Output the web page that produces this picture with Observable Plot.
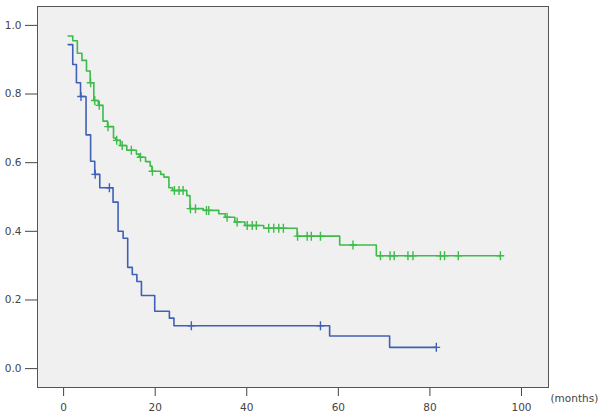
<!DOCTYPE html>
<html>
<head>
<meta charset="utf-8">
<script src="https://cdn.jsdelivr.net/npm/d3@7"></script>
<script src="https://cdn.jsdelivr.net/npm/@observablehq/plot@0.6"></script>
<style>
  html, body { margin: 0; padding: 0; background: #ffffff; }
  #chart { width: 600px; height: 413px; }
</style>
</head>
<body>
<div id="chart"></div>
<script>
// Green group: event times (months) and survival after each drop
const greenTime = [1, 2, 3, 4, 5, 5.8, 6.6, 7.6, 8.6, 9.6, 10.9, 11.4, 12.4, 13.8, 15.9, 16.5, 17.9, 18.9, 19.3, 21.2, 21.9, 23.0, 23.8, 26.9, 27.6, 30.5, 33.9, 35.3, 37.4, 39.6, 43.7, 51.0, 60.3, 68.3];
const greenSurv = [0.969, 0.955, 0.919, 0.898, 0.867, 0.833, 0.781, 0.767, 0.721, 0.705, 0.672, 0.665, 0.650, 0.636, 0.625, 0.616, 0.603, 0.590, 0.575, 0.566, 0.558, 0.527, 0.519, 0.504, 0.466, 0.461, 0.451, 0.441, 0.427, 0.417, 0.409, 0.386, 0.360, 0.329];
const greenCensor = [5.9, 6.8, 7.8, 9.7, 11.6, 12.8, 14.8, 16.8, 19.4, 24.2, 25.2, 26.1, 27.7, 28.8, 31.2, 31.7, 35.7, 37.9, 40.1, 41.2, 42.1, 44.8, 45.9, 47.0, 48.0, 51.1, 53.2, 54.1, 56.1, 63.2, 69.2, 71.3, 72.2, 75.2, 76.3, 82.3, 83.2, 86.2, 95.4];

// Blue group
const blueTime = [1, 2, 2.8, 3.7, 4.9, 5.9, 6.8, 7.9, 10.8, 11.9, 13.0, 14.0, 15.0, 16.0, 17.0, 19.9, 23.1, 24.1, 58.1, 71.2];
const blueSurv = [0.944, 0.886, 0.833, 0.793, 0.681, 0.604, 0.566, 0.527, 0.485, 0.400, 0.380, 0.295, 0.274, 0.254, 0.213, 0.167, 0.147, 0.125, 0.095, 0.062];
const blueCensor = [3.8, 6.9, 10.0, 27.9, 56.1, 81.4];

const xTicks = [0, 20, 40, 60, 80, 100];
const yTicks = [0, 0.2, 0.4, 0.6, 0.8, 1.0];

const GREEN = "#3dbb4b";
const BLUE = "#4060b8";

function stepAt(times, surv, t) {
  let s = surv[0];
  for (let i = 0; i < times.length; i++) if (times[i] <= t) s = surv[i];
  return s;
}
function lineData(times, surv, censor) {
  const d = times.map((t, i) => ({t, s: surv[i]}));
  const last = censor[censor.length - 1];
  if (last > times[times.length - 1]) d.push({t: last, s: surv[surv.length - 1]});
  return d;
}
function censorData(times, surv, censor) {
  return censor.map(t => ({t, s: stepAt(times, surv, t)}));
}

const plusSymbol = {
  draw(context, size) {
    const r = Math.sqrt(size / Math.PI);
    context.moveTo(-r * 0.85, 0);
    context.lineTo(r * 0.85, 0);
    context.moveTo(0, -r);
    context.lineTo(0, r);
  }
};

const chart = Plot.plot({
  width: 600,
  height: 413,
  marginLeft: 37,
  marginRight: 52,
  marginTop: 6,
  marginBottom: 26,
  style: {background: "#ffffff", fontFamily: "DejaVu Sans", fontSize: "10.5px", color: "#444"},
  x: {domain: [-5.7, 105.9], ticks: xTicks, tickSize: 9, tickPadding: 7, label: null},
  y: {domain: [-0.055, 1.055], ticks: yTicks, tickFormat: ".1f", tickSize: 12, tickPadding: 4, label: null},
  marks: [
    Plot.frame({fill: "#f0f0f0", stroke: "#555", strokeWidth: 1}),
    Plot.line(lineData(greenTime, greenSurv, greenCensor), {x: "t", y: "s", curve: "step-after", stroke: GREEN, strokeWidth: 1.6}),
    Plot.line(lineData(blueTime, blueSurv, blueCensor), {x: "t", y: "s", curve: "step-after", stroke: BLUE, strokeWidth: 1.6}),
    Plot.dot(censorData(greenTime, greenSurv, greenCensor), {x: "t", y: "s", symbol: plusSymbol, r: 4.5, stroke: GREEN, strokeWidth: 1.4, fill: "none"}),
    Plot.dot(censorData(blueTime, blueSurv, blueCensor), {x: "t", y: "s", symbol: plusSymbol, r: 4.5, stroke: BLUE, strokeWidth: 1.4, fill: "none"}),
    Plot.text(["(months)"], {frameAnchor: "bottom-right", textAnchor: "start", dx: 2, dy: 14, fill: "#444"})
  ]
});
document.getElementById("chart").appendChild(chart);
</script>
</body>
</html>
